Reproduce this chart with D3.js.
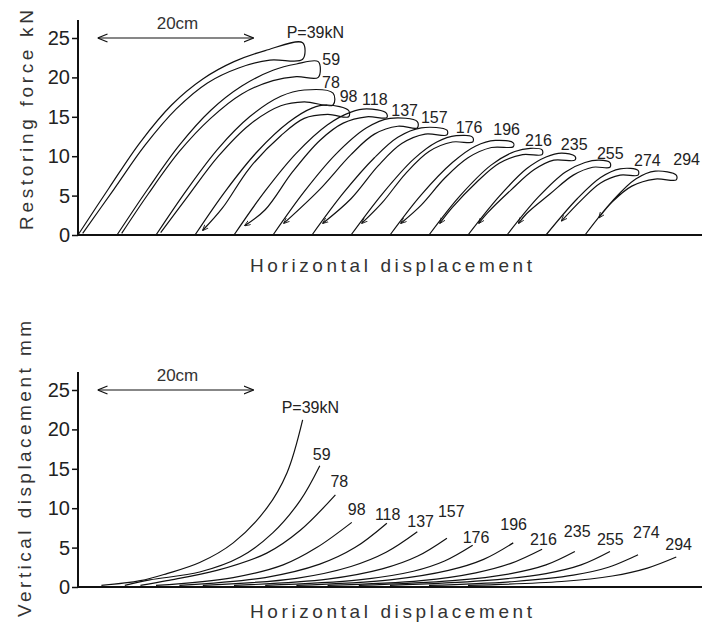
<!DOCTYPE html>
<html>
<head>
<meta charset="utf-8">
<script src="https://cdnjs.cloudflare.com/ajax/libs/d3/7.8.5/d3.min.js"></script>
<style>
body { margin: 0; background: #fff; }
.tick text { font-family: "Liberation Sans", Arial, sans-serif; font-size: 20px; fill: #222; }
.tick line { stroke: #111; stroke-width: 1.5; }
.curve { fill: none; stroke: #111; stroke-width: 1.2; }
.load { font-family: "Liberation Sans", Arial, sans-serif; font-size: 16px; fill: #222; }
.title { font-family: "Liberation Sans", Arial, sans-serif; font-size: 19px; fill: #333; }
</style>
</head>
<body>
<div id="chart"></div>
<script>
// applied load P (kN), one loop per load, each started 5 cm further along
var loads = ["39", "59", "78", "98", "118", "137", "157", "176", "196", "216", "235", "255", "274", "294"];
var yTicks = [0, 5, 10, 15, 20, 25];

// restoring force, loading branch [cm, kN]
var forceLoading = [
    [[0,0],[4,6],[8,11.8],[12,16.5],[16,19.8],[20,22],[24,23.4],[28.8,24.4]],
    [[5,0],[9,5.9],[13,11.4],[17,15.8],[21,18.9],[25,20.9],[28,21.7],[30.8,22.0]],
    [[10,0],[14,5.8],[18,11],[22,15],[26,17.6],[29,18.4],[32.7,18.0]],
    [[15,0],[19,5.7],[23,10.6],[27,14.3],[30,16.1],[32,16.5],[34.7,15.8]],
    [[20,0],[24,5.6],[28,10.4],[32,14],[35,15.6],[37,16.0],[39.5,15.5]],
    [[25,0],[29,5.5],[33,10.2],[37,13.6],[40,14.8],[43.5,14.4]],
    [[30,0],[34,5.3],[38,9.8],[41,12.4],[44,13.6],[47.3,13.3]],
    [[35,0],[39,5.2],[43,9.6],[46,11.8],[48.5,12.6],[50.6,12.4]],
    [[40,0],[44,5.1],[48,9.2],[51,11.3],[53.5,12.0],[55.8,11.7]],
    [[45,0],[49,5.0],[53,8.9],[56,10.6],[58,11.0],[59.5,10.8]],
    [[50,0],[54,4.9],[57.5,8.4],[60,9.9],[62,10.4],[63.7,10.0]],
    [[55,0],[59,4.8],[62.5,8],[65,9.2],[66.8,9.5],[68.2,9.2]],
    [[60,0],[64,4.6],[67,7.3],[69.5,8.4],[71.8,8.2]],
    [[65,0],[68.5,4.3],[71.5,7.1],[74,8.1],[76.7,7.6]]
];

// restoring force, unloading branch [cm, kN]
var forceUnloading = [
    [[28.8,22.3],[24.6,22.2],[20.6,21.2],[16.6,19.3],[12.6,16],[8.6,11.4],[4.6,5.8],[0.6,0.2]],
    [[30.8,20.0],[28,20.1],[25,19.6],[21,17.9],[17,14.8],[13,10.6],[9,5.2],[5.6,0.2]],
    [[32.7,16.5],[29,16.9],[26,16.4],[22,14],[18,10],[14,4.8],[10.6,0.3]],
    [[34.7,15.0],[32,15.3],[29,14.8],[26,12.6],[22,8.5],[18.5,3.4],[16,0.6]],
    [[39.6,14.9],[37,15.0],[34,14.2],[31,12],[27.5,8],[24,3.2],[21.4,1.2]],
    [[43.5,13.6],[41,13.8],[38,12.8],[35,10.2],[31,5.8],[26.4,1.5]],
    [[47.3,12.7],[44.5,12.8],[41.5,11.6],[38.5,8.8],[35,4.6],[31.4,1.5]],
    [[50.6,11.8],[48,11.8],[45,10.6],[42,7.8],[39,4.1],[36.4,1.5]],
    [[55.8,11.2],[53,11.1],[50,9.8],[47,7.2],[44,3.8],[41.4,1.5]],
    [[59.5,10.2],[57,10.2],[54,9.1],[51,6.6],[48,3.5],[46.4,1.5]],
    [[63.7,9.5],[61,9.5],[58.5,8.3],[55.5,5.7],[52.5,2.8],[51.4,1.5]],
    [[68.2,8.6],[66,8.6],[63.5,7.6],[60.5,5.2],[57.5,2.7],[56.5,1.5]],
    [[71.8,7.6],[69.5,7.6],[67,6.6],[64.5,4.4],[62,1.8]],
    [[76.7,7.0],[74,7.1],[71,6.2],[68.5,4.2],[66.8,2.2]]
];

// vertical displacement [cm, mm]
var vertDisp = [
    [[3,0.2],[8,0.8],[11.4,1.7],[15.6,3.1],[19.9,5.6],[24.2,10],[26.8,14.5],[28.8,21.2]],
    [[6,0.2],[9.2,0.9],[15.6,1.9],[20.8,3.8],[25,6.9],[28.5,11],[31,15.4]],
    [[8,0.2],[11.4,0.8],[17.8,2.1],[24.2,4.3],[28.5,7.2],[33,11.7]],
    [[10,0.2],[19.9,1.2],[26.3,2.8],[30.6,5.0],[35.1,8.2]],
    [[13,0.2],[24,1.2],[31,2.9],[35.5,5.0],[39.6,8.1]],
    [[16,0.2],[28,1.1],[35,2.6],[39.5,4.4],[43.5,7.0]],
    [[20,0.2],[32,1.0],[39,2.3],[43.5,3.9],[47.3,6.2]],
    [[24,0.2],[36,0.9],[43,2.0],[47,3.3],[50.6,5.3]],
    [[28,0.2],[40,0.9],[47.5,2.1],[52,3.5],[55.8,5.6]],
    [[32,0.2],[44,0.8],[51,1.8],[55.5,3.0],[59.5,4.8]],
    [[36,0.2],[48,0.8],[55.5,1.7],[60,2.8],[63.7,4.5]],
    [[40,0.2],[52,0.8],[60,1.7],[64.5,2.8],[68.2,4.5]],
    [[45,0.2],[56,0.7],[63.5,1.5],[68,2.5],[71.8,4.1]],
    [[50,0.2],[62,0.7],[68.5,1.4],[73,2.4],[76.7,3.8]]
];

// 20 cm scale bar [cm]
var scaleBar = [2.5, 22.5];

// label nudges (px) from each curve end
var topLabelDx = [-16, 4, -11, -9, -24, -26, -26, -17, -20, -17, -14, -13, -4, -3];
var topLabelDy = [-5, 3, -5, -8, -8, -6, -7, -4, -8, -4, -6, -4, -4, -10];
var botLabelDx = [-21, -7, -5, -4, -12, -10, -9, -10, -13, -12, -11, -13, -5, -11];
var botLabelDy = [-7, -6, -8, -7, -3, -5, -21, -2, -13, -4, -15, -7, -17, -7];


var svg = d3.select("#chart").append("svg")
    .attr("width", 706)
    .attr("height", 632);

var defs = svg.append("defs");
defs.append("marker")
    .attr("id", "head")
    .attr("viewBox", "0 0 10 10")
    .attr("refX", 10).attr("refY", 5)
    .attr("markerWidth", 10).attr("markerHeight", 10)
    .attr("markerUnits", "userSpaceOnUse")
    .attr("orient", "auto-start-reverse")
    .append("path")
    .attr("d", "M0,1 L10,5 L0,9")
    .attr("fill", "none")
    .attr("stroke", "#111")
    .attr("stroke-width", 1.2);
// little arrow at the end of an unloading branch
defs.append("marker")
    .attr("id", "tail")
    .attr("viewBox", "0 0 10 10")
    .attr("refX", 9).attr("refY", 5)
    .attr("markerWidth", 6).attr("markerHeight", 6)
    .attr("markerUnits", "userSpaceOnUse")
    .attr("orient", "auto")
    .append("path")
    .attr("d", "M0,1 L10,5 L0,9")
    .attr("fill", "none")
    .attr("stroke", "#111")
    .attr("stroke-width", 1.4);

var x = d3.scaleLinear().domain([0, 80]).range([78, 702]);


Panel = function(_top, _bottom, _yTitle, _titleX, _titleY, _titleLen){
    this.top = _top;
    this.bottom = _bottom;
    this.yTitle = _yTitle;
    this.titleX = _titleX;
    this.titleY = _titleY;
    this.titleLen = _titleLen;
    this.initVis();
}

Panel.prototype.initVis = function(){
    var vis = this;

    vis.y = d3.scaleLinear().domain([0, 25]).range([vis.bottom, vis.top]);
    vis.g = svg.append("g");

    vis.line = d3.line()
        .x(function(d){ return x(d[0]); })
        .y(function(d){ return vis.y(d[1]); })
        .curve(d3.curveCatmullRom.alpha(0.5));

    var axis = d3.axisLeft(vis.y).tickValues(yTicks).tickSize(6).tickPadding(2);
    vis.g.append("g")
        .attr("transform", "translate(" + x(0) + ",0)")
        .call(axis)
        .call(function(g){ g.select(".domain").remove(); });

    // axis lines
    vis.g.append("line")
        .attr("x1", x(0)).attr("x2", x(0))
        .attr("y1", vis.y(0) + 1).attr("y2", vis.y(27.3))
        .attr("stroke", "#111").attr("stroke-width", 2);
    vis.g.append("line")
        .attr("x1", x(0)).attr("x2", x(80))
        .attr("y1", vis.y(0)).attr("y2", vis.y(0))
        .attr("stroke", "#111").attr("stroke-width", 2);

    vis.g.append("line")
        .attr("x1", x(scaleBar[0])).attr("x2", x(scaleBar[1]))
        .attr("y1", vis.y(25)).attr("y2", vis.y(25))
        .attr("stroke", "#111").attr("stroke-width", 1.2)
        .attr("marker-start", "url(#head)")
        .attr("marker-end", "url(#head)");
    vis.g.append("text")
        .attr("class", "title")
        .attr("x", x((scaleBar[0] + scaleBar[1]) / 2) + 2)
        .attr("y", vis.y(25) - 9)
        .attr("text-anchor", "middle")
        .style("font-size", "17px")
        .text("20cm");

    vis.g.append("text")
        .attr("class", "title")
        .attr("transform", "translate(" + vis.titleX + "," + vis.titleY + ") rotate(-90)")
        .attr("text-anchor", "middle")
        .attr("textLength", vis.titleLen)
        .attr("lengthAdjust", "spacing")
        .text(vis.yTitle);

    vis.g.append("text")
        .attr("class", "title")
        .attr("x", 250)
        .attr("y", vis.y(0) + (vis.bottom > 400 ? 31 : 37))
        .attr("textLength", 282)
        .attr("lengthAdjust", "spacing")
        .text("Horizontal displacement");
}

Panel.prototype.addLabels = function(series, dx, dy){
    var vis = this;
    vis.g.selectAll(".load")
        .data(loads)
        .enter()
        .append("text")
        .attr("class", "load")
        .attr("x", function(d, i){
            var end = series[i][series[i].length - 1];
            return x(end[0]) + dx[i];
        })
        .attr("y", function(d, i){
            var end = series[i][series[i].length - 1];
            return vis.y(end[1]) + dy[i];
        })
        .text(function(d, i){ return i == 0 ? "P=" + d + "kN" : d; });
}


// top: restoring force loops
var force = new Panel(38, 235, "Restoring force kN", 33, 120, 220);

force.g.selectAll(".curve")
    .data(loads)
    .enter()
    .append("path")
    .attr("class", "curve")
    .attr("d", function(d, i){
        return force.line(forceLoading[i].concat(forceUnloading[i]));
    })
    .attr("marker-end", function(d, i){ return i >= 3 ? "url(#tail)" : null; });

force.addLabels(forceLoading, topLabelDx, topLabelDy);


// bottom: vertical displacement
var vert = new Panel(390, 587, "Vertical displacement mm", 31, 469, 296);

vert.g.selectAll(".curve")
    .data(loads)
    .enter()
    .append("path")
    .attr("class", "curve")
    .attr("d", function(d, i){ return vert.line(vertDisp[i]); });

vert.addLabels(vertDisp, botLabelDx, botLabelDy);
</script>
</body>
</html>
